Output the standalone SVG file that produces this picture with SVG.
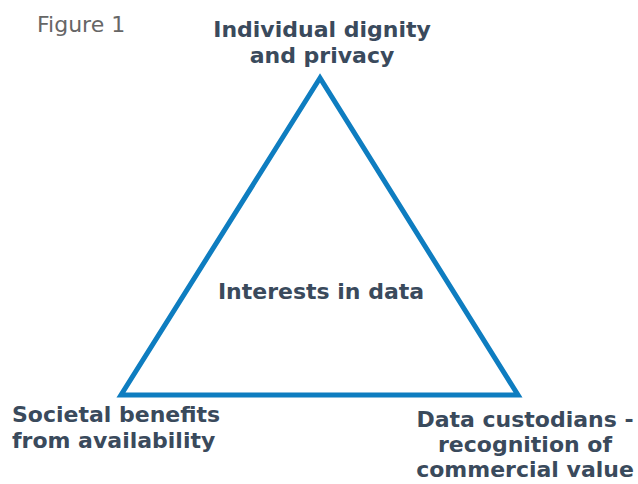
<svg xmlns="http://www.w3.org/2000/svg" width="638" height="484" viewBox="0 0 638 484">
  <style>
    .lbl { font-family: "DejaVu Sans", Verdana, sans-serif; font-weight: bold; font-size: 22px; fill: #3a4a5c; }
    .cap { font-family: "DejaVu Sans", Verdana, sans-serif; font-size: 22px; fill: #666666; }
    .tri { fill: none; stroke: #0e7dc0; stroke-width: 5; stroke-linejoin: miter; }
  </style>
  <rect width="638" height="484" fill="#ffffff"/>
  <text class="cap" x="37" y="32">Figure 1</text>
  <g id="connectors">
    <polygon class="tri" points="320,78 121,395 518,395"/>
  </g>
  <g id="node-privacy">
    <text class="lbl" text-anchor="middle" x="322" y="37">Individual dignity</text>
    <text class="lbl" text-anchor="middle" x="322" y="63">and privacy</text>
  </g>
  <g id="node-centre">
    <text class="lbl" text-anchor="middle" x="321" y="299">Interests in data</text>
  </g>
  <g id="node-societal">
    <text class="lbl" x="12" y="422">Societal benefits</text>
    <text class="lbl" x="12" y="448">from availability</text>
  </g>
  <g id="node-custodians">
    <text class="lbl" text-anchor="middle" x="525" y="427">Data custodians -</text>
    <text class="lbl" text-anchor="middle" x="525" y="452">recognition of</text>
    <text class="lbl" text-anchor="middle" x="525" y="477">commercial value</text>
  </g>
</svg>
